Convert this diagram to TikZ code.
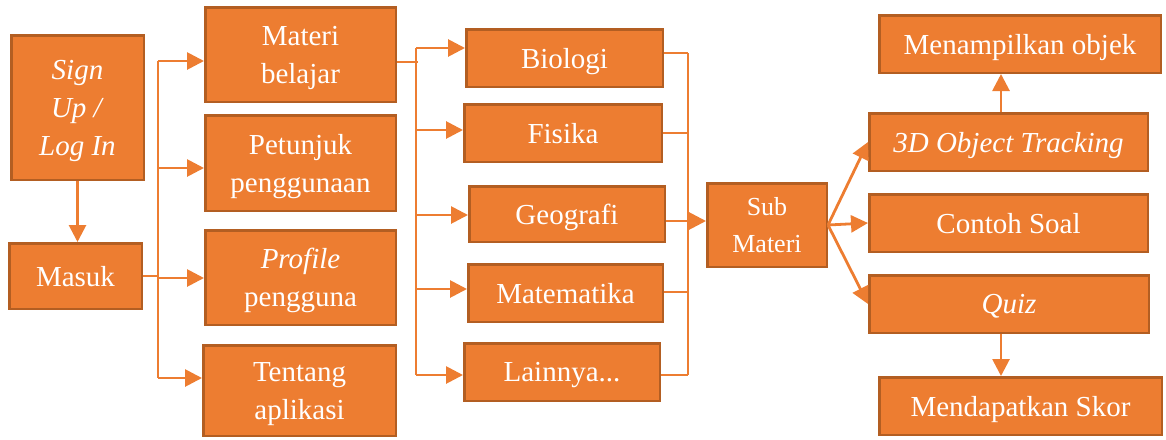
\documentclass[tikz,border=0pt]{standalone}
\usepackage{fontspec}
\setmainfont{Liberation Serif}
\usetikzlibrary{arrows.meta}
\definecolor{boxfill}{HTML}{ED7D31}
\definecolor{boxline}{HTML}{B35E22}
\definecolor{conn}{HTML}{ED7D31}
\begin{document}
\begin{tikzpicture}[x=1pt,y=-1pt,
  box/.style={draw=boxline, fill=boxfill, line width=2.5pt, text=white, align=center,
    inner sep=0pt, text depth=0pt, font=\fontsize{29}{38}\selectfont},
  smallbox/.style={box, font=\fontsize{26}{37}\selectfont},
  wire/.style={draw=conn, line width=2.8pt},
  arr/.style={wire, -{Triangle[length=17pt,width=17pt]}}]
\useasboundingbox (0,0) rectangle (1166,439);
% column 1
\node[box, minimum width=132.5pt, minimum height=144.5pt] (signup) at (77.5,107.5) {\textit{Sign}\\\textit{Up /}\\\textit{Log In}};
\node[box, minimum width=132.5pt, minimum height=65.5pt] (masuk) at (75.5,276) {Masuk};
% column 2
\node[box, minimum width=190.5pt, minimum height=94.5pt] (materi) at (300.5,54.5) {Materi\\belajar};
\node[box, minimum width=190.5pt, minimum height=95.5pt] (petunjuk) at (300.5,163) {Petunjuk\\penggunaan};
\node[box, minimum width=190.5pt, minimum height=94.5pt] (profile) at (300.5,277.5) {\textit{Profile}\\pengguna};
\node[box, minimum width=192.5pt, minimum height=90.5pt] (tentang) at (299.5,390.5) {Tentang\\aplikasi};
% column 3
\node[box, minimum width=196.5pt, minimum height=57.5pt] (biologi) at (564.5,58) {Biologi};
\node[box, minimum width=197.5pt, minimum height=57.5pt] (fisika) at (563,133) {Fisika};
\node[box, minimum width=195.5pt, minimum height=55.5pt] (geografi) at (567,214) {Geografi};
\node[box, minimum width=194.5pt, minimum height=57.5pt] (matematika) at (565.5,293) {Matematika};
\node[box, minimum width=195.5pt, minimum height=57.5pt] (lainnya) at (562,372) {Lainnya...};
% sub materi
\node[smallbox, minimum width=119.5pt, minimum height=83.5pt] (sub) at (767,225) {Sub\\Materi};
% column 5
\node[box, minimum width=281.5pt, minimum height=57.5pt] (menampilkan) at (1020,44) {Menampilkan objek};
\node[box, minimum width=278.5pt, minimum height=57.5pt] (tracking) at (1008.5,142) {\textit{3D Object Tracking}};
\node[box, minimum width=278.5pt, minimum height=57.5pt] (contoh) at (1008.5,223) {Contoh Soal};
\node[box, minimum width=279.5pt, minimum height=57.5pt] (quiz) at (1009,304) {\textit{Quiz}};
\node[box, minimum width=282.5pt, minimum height=57.5pt] (skor) at (1020.5,406) {Mendapatkan Skor};
% signup -> masuk
\draw[arr] (signup.south) -- (signup.south |- masuk.north);
% bus 1
\coordinate (b1m) at (158,276);
\coordinate (b1a) at (158,61);
\coordinate (b1b) at (158,168);
\coordinate (b1c) at (158,278);
\coordinate (b1d) at (158,378);
\draw[wire] (masuk.east |- b1m) -- (b1m);
\draw[wire] (b1a) -- (b1d);
\draw[arr] (b1a) -- (b1a -| materi.west);
\draw[arr] (b1b) -- (b1b -| petunjuk.west);
\draw[arr] (b1c) -- (b1c -| profile.west);
\draw[arr] (b1d) -- (b1d -| tentang.west);
% bus 2
\coordinate (b2m) at (418,62);
\coordinate (b2a) at (416,48);
\coordinate (b2b) at (416,130);
\coordinate (b2c) at (416,215);
\coordinate (b2d) at (416,289);
\coordinate (b2e) at (416,375);
\draw[wire] (materi.east |- b2m) -- (b2m);
\draw[wire] (b2a) -- (b2e);
\draw[arr] (b2a) -- (b2a -| biologi.west);
\draw[arr] (b2b) -- (b2b -| fisika.west);
\draw[arr] (b2c) -- (b2c -| geografi.west);
\draw[arr] (b2d) -- (b2d -| matematika.west);
\draw[arr] (b2e) -- (b2e -| lainnya.west);
% bus 3
\coordinate (b3a) at (688,53);
\coordinate (b3b) at (688,133);
\coordinate (b3c) at (688,221);
\coordinate (b3d) at (688,292);
\coordinate (b3e) at (688,375);
\draw[wire] (b3a) -- (b3e);
\draw[wire] (biologi.east |- b3a) -- (b3a);
\draw[wire] (fisika.east |- b3b) -- (b3b);
\draw[wire] (matematika.east |- b3d) -- (b3d);
\draw[wire] (lainnya.east |- b3e) -- (b3e);
\draw[arr] (geografi.east |- b3c) -- (b3c -| sub.west);
% sub materi fan
\draw[arr] (sub.east) -- (tracking.west);
\draw[arr] (sub.east) -- (contoh.west);
\draw[arr] (sub.east) -- (quiz.west);
% vertical arrows
\draw[arr] ([xshift=-7.5pt]tracking.north) -- ([xshift=-7.5pt]tracking.north |- menampilkan.south);
\draw[arr] ([xshift=-8pt]quiz.south) -- ([xshift=-8pt]quiz.south |- skor.north);
\end{tikzpicture}
\end{document}
